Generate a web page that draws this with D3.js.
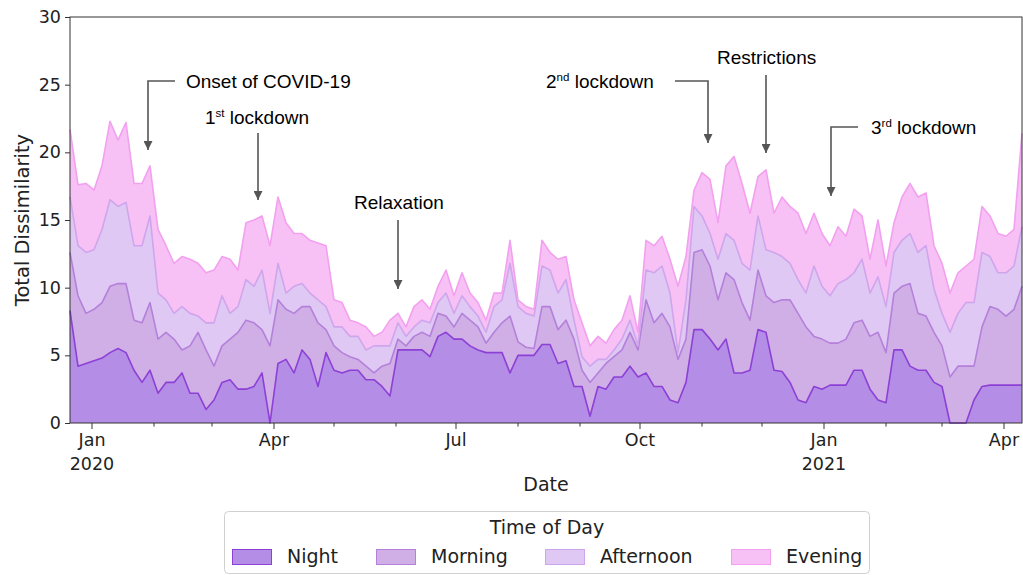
<!DOCTYPE html>
<html><head><meta charset="utf-8">
<script src="https://cdn.jsdelivr.net/npm/d3@7"></script>
<style>body{margin:0;background:#fff} svg{display:block}</style>
</head><body>
<svg id="c" width="1023" height="575"></svg>
<script>
const startDate = "2019-12-21";
const stepDays = 4;
const seriesNames = ["Night", "Morning", "Afternoon", "Evening"];
const night = [8.3,4.2,4.4,4.6,4.8,5.2,5.5,5.2,3.9,3.0,3.9,2.2,3.0,3.0,3.7,2.2,2.2,1.0,1.7,3.0,
  3.2,2.5,2.5,2.7,3.7,0.0,4.4,4.7,3.7,5.4,4.7,2.7,5.2,3.9,3.7,3.9,3.9,3.2,3.2,2.7,
  2.0,5.4,5.4,5.4,5.4,4.9,6.4,6.7,6.2,6.2,5.7,5.4,5.2,5.2,5.2,3.7,5.0,5.0,5.0,5.8,
  5.8,4.4,4.6,2.7,2.7,0.5,2.7,2.5,3.4,3.4,4.2,3.4,3.7,2.7,2.7,1.7,1.5,3.0,6.9,6.9,
  6.2,5.4,6.2,3.7,3.7,3.9,6.9,6.7,3.9,3.8,3.0,1.7,1.5,2.7,2.5,2.8,2.8,2.8,3.9,3.9,
  2.5,1.7,1.5,5.4,5.4,4.2,3.9,3.9,3.0,2.7,0.0,0.0,0.0,1.7,2.7,2.8,2.8,2.8,2.8,2.8];
const morning = [4.3,5.2,3.7,3.8,4.1,4.9,4.8,5.1,3.7,4.4,5.0,4.0,3.7,3.2,1.7,3.5,4.5,4.4,2.5,2.7,
  3.0,4.2,5.1,4.7,3.2,5.7,4.7,3.7,4.4,3.2,3.9,4.7,1.7,1.8,1.5,1.0,0.8,1.0,0.5,1.5,
  2.4,0.8,0.3,1.0,1.3,1.5,1.7,1.2,0.9,1.9,1.9,1.7,0.7,1.5,2.2,4.2,1.0,0.6,0.5,2.8,
  2.8,2.5,3.0,3.5,1.2,2.5,1.0,1.9,1.5,2.0,2.5,2.0,5.4,4.7,5.4,5.4,3.2,3.2,5.7,5.9,
  5.4,3.7,4.9,6.9,5.2,3.7,4.4,2.7,5.0,5.3,6.1,6.4,5.6,3.7,3.7,3.1,3.1,3.4,3.5,3.7,
  3.9,5.0,3.7,4.2,4.7,6.1,4.2,4.0,3.7,3.0,3.4,4.2,4.2,2.5,4.4,5.8,5.6,5.1,5.6,7.3];
const afternoon = [4.1,3.7,4.5,4.4,5.4,6.4,5.7,6.0,5.5,5.7,6.4,3.4,2.4,1.9,3.2,2.4,1.2,2.0,3.2,3.7,
  1.9,1.9,3.0,2.7,4.4,2.4,2.7,1.2,2.0,1.7,1.0,1.7,1.7,1.4,1.9,1.5,1.7,1.2,2.0,1.5,
  1.3,1.2,0.7,0.7,0.9,1.0,0.8,1.7,1.0,1.3,1.0,0.8,0.8,1.9,1.7,3.9,2.6,2.5,2.4,3.0,
  2.7,2.7,3.0,1.4,1.0,1.2,1.0,0.3,0.5,0.8,0.9,0.3,2.2,3.7,3.5,2.5,0.5,2.9,3.4,2.5,
  2.4,3.0,2.9,2.9,2.9,3.7,4.0,3.4,3.7,3.2,2.7,2.5,2.5,5.2,3.9,3.5,4.4,4.4,3.7,4.5,
  3.2,4.1,3.4,3.0,3.4,3.7,4.5,5.2,3.2,2.4,3.3,3.9,4.7,4.7,5.5,3.7,2.7,3.2,3.2,4.4];
const evening = [5.0,4.5,5.1,4.4,4.7,5.8,4.9,5.9,4.6,4.6,3.7,4.7,4.0,3.7,3.7,4.0,3.9,3.7,3.9,2.9,
  4.0,2.7,4.2,4.9,4.0,5.0,4.9,5.2,3.9,3.7,3.9,4.2,4.5,2.0,1.8,1.2,1.0,1.7,0.7,1.0,
  1.9,0.7,0.7,1.5,1.5,1.0,1.2,1.7,1.3,1.7,1.0,1.0,0.9,1.0,0.5,1.7,0.5,0.5,0.5,1.9,
  1.3,2.5,1.7,1.5,2.5,1.5,1.7,1.2,1.5,1.4,1.8,1.0,2.2,2.0,2.2,2.5,4.9,3.2,1.2,3.2,
  4.0,2.7,5.0,6.2,5.9,4.2,2.9,5.9,2.9,4.4,4.2,4.9,4.4,3.9,3.9,3.7,4.2,3.2,4.7,3.2,
  2.5,4.2,3.0,2.2,3.2,3.7,4.1,3.9,3.2,3.7,2.9,3.0,2.7,3.2,3.4,3.0,2.9,2.7,2.7,6.9];
const yTicks = [0, 5, 10, 15, 20, 25, 30];
const monthNames = ["Jan","Feb","Mar","Apr","May","Jun","Jul","Aug","Sep","Oct","Nov","Dec"];

const fills = {Night:"#b48ee6", Morning:"#d0aee6", Afternoon:"#dfc9f4", Evening:"#f8c1f5"};
const lines = {Night:"#8c40d6", Morning:"#b480da", Afternoon:"#cfa5ec", Evening:"#f2a0ef"};

// ---- build table ----
const t0 = d3.timeParse("%Y-%m-%d")(startDate);
const values = {Night: night, Morning: morning, Afternoon: afternoon, Evening: evening};
const table = night.map((_, i) => {
  const row = {date: d3.timeDay.offset(t0, i * stepDays)};
  seriesNames.forEach(k => row[k] = values[k][i]);
  return row;
});

const m = {l: 70, r: 1022, t: 17, b: 423};
const svg = d3.select("#c");
const font = "'DejaVu Sans', sans-serif";

const x = d3.scaleTime().domain(d3.extent(table, d => d.date)).range([m.l, m.r]);
const y = d3.scaleLinear().domain([0, 30]).range([m.b, m.t]);

const stack = d3.stack().keys(seriesNames)(table);
const area = d3.area().x(d => x(d.data.date)).y0(d => y(d[0])).y1(d => y(d[1]));
const line = d3.line().x(d => x(d.data.date)).y(d => y(d[1]));

const g = svg.append("g");
g.selectAll("path.a").data(stack).join("path").attr("class","a")
  .attr("d", area).attr("fill", d => fills[d.key]);
g.selectAll("path.l").data(stack).join("path").attr("class","l")
  .attr("d", line).attr("fill","none").attr("stroke", d => lines[d.key])
  .attr("stroke-width", 1.6).attr("stroke-linejoin","round");

// frame
svg.append("rect").attr("x", m.l).attr("y", m.t).attr("width", m.r - m.l).attr("height", m.b - m.t)
  .attr("fill","none").attr("stroke","#333").attr("stroke-width",1);

// y axis
const yAxis = d3.axisLeft(y).tickValues(yTicks).tickSize(5).tickPadding(4);
const ya = svg.append("g").attr("transform", `translate(${m.l},0)`).call(yAxis);
ya.select(".domain").remove();
ya.selectAll("text").attr("font-family", font).attr("font-size", "17.5px").attr("fill","#222");
ya.selectAll("line").attr("stroke","#333");

// x axis: minor monthly ticks, major quarterly with labels
const [d0, d1] = x.domain();
const months = d3.timeMonth.range(d3.timeMonth.ceil(d0), d1);
const xa = svg.append("g");
xa.selectAll("line").data(months).join("line")
  .attr("x1", d => x(d)).attr("x2", d => x(d))
  .attr("y1", m.b).attr("y2", d => m.b + (d.getMonth() % 3 === 0 ? 6 : 3.5))
  .attr("stroke","#333");
const majors = months.filter(d => d.getMonth() % 3 === 0);
xa.selectAll("text.mo").data(majors).join("text").attr("class","mo")
  .attr("x", d => x(d)).attr("y", 446).attr("text-anchor","middle")
  .attr("font-family", font).attr("font-size","17.5px").attr("fill","#222")
  .text(d => monthNames[d.getMonth()]);
xa.selectAll("text.yr").data(majors.filter(d => d.getMonth() === 0)).join("text").attr("class","yr")
  .attr("x", d => x(d)).attr("y", 470).attr("text-anchor","middle")
  .attr("font-family", font).attr("font-size","17.5px").attr("fill","#222")
  .text(d => d.getFullYear());

// axis labels
svg.append("text").attr("x", (m.l + m.r) / 2).attr("y", 491).attr("text-anchor","middle")
  .attr("font-family", font).attr("font-size","19px").attr("fill","#222").text("Date");
svg.append("text").attr("transform", "translate(29,220) rotate(-90)").attr("text-anchor","middle")
  .attr("font-family", font).attr("font-size","19.5px").attr("fill","#222").text("Total Dissimilarity");

// annotations
const afont = "'Liberation Sans', Arial, sans-serif";
svg.append("defs").append("marker").attr("id","ah").attr("viewBox","0 0 10 10")
  .attr("refX", 10).attr("refY", 5).attr("markerWidth", 9).attr("markerHeight", 9)
  .attr("markerUnits","userSpaceOnUse").attr("orient","auto")
  .append("path").attr("d","M0,0 L10,5 L0,10 z").attr("fill","#555");
const arrows = [
  "M175,81 H148 V150",
  "M258,133 V200",
  "M398,220 V289",
  "M675,81 H708 V143",
  "M766,75 V153",
  "M858,127 H831 V196"
];
svg.selectAll("path.arr").data(arrows).join("path").attr("class","arr")
  .attr("d", d => d).attr("fill","none").attr("stroke","#555").attr("stroke-width",1.6)
  .attr("marker-end","url(#ah)");
function label(xp, yp, main, sup, rest) {
  const t = svg.append("text").attr("x", xp).attr("y", yp).attr("font-family", afont)
    .attr("font-size","19px").attr("fill","#000");
  t.append("tspan").text(main);
  if (sup) {
    t.append("tspan").attr("font-size","11.5px").attr("dy", -7).text(sup);
    t.append("tspan").attr("dy", 7).text(rest);
  }
}
label(186, 88, "Onset of COVID-19");
label(205, 124, "1", "st", " lockdown");
label(354, 209, "Relaxation");
label(546, 88, "2", "nd", " lockdown");
label(717, 64, "Restrictions");
label(871, 134, "3", "rd", " lockdown");

// legend
const lg = svg.append("g");
lg.append("rect").attr("x", 224.5).attr("y", 511.5).attr("width", 645).attr("height", 62).attr("rx", 4)
  .attr("fill","#fff").attr("stroke","#d0d0d0");
lg.append("text").attr("x", 547).attr("y", 534).attr("text-anchor","middle")
  .attr("font-family", font).attr("font-size","19px").attr("fill","#222").text("Time of Day");
const lx = [232, 376, 545, 731];
seriesNames.forEach((k, i) => {
  lg.append("rect").attr("x", lx[i] + 0.5).attr("y", 549.5).attr("width", 39).attr("height", 15)
    .attr("fill", fills[k]).attr("stroke", lines[k]);
  lg.append("text").attr("x", lx[i] + 55).attr("y", 563).attr("font-family", font)
    .attr("font-size","19px").attr("fill","#222").text(k);
});
</script>
</body></html>
